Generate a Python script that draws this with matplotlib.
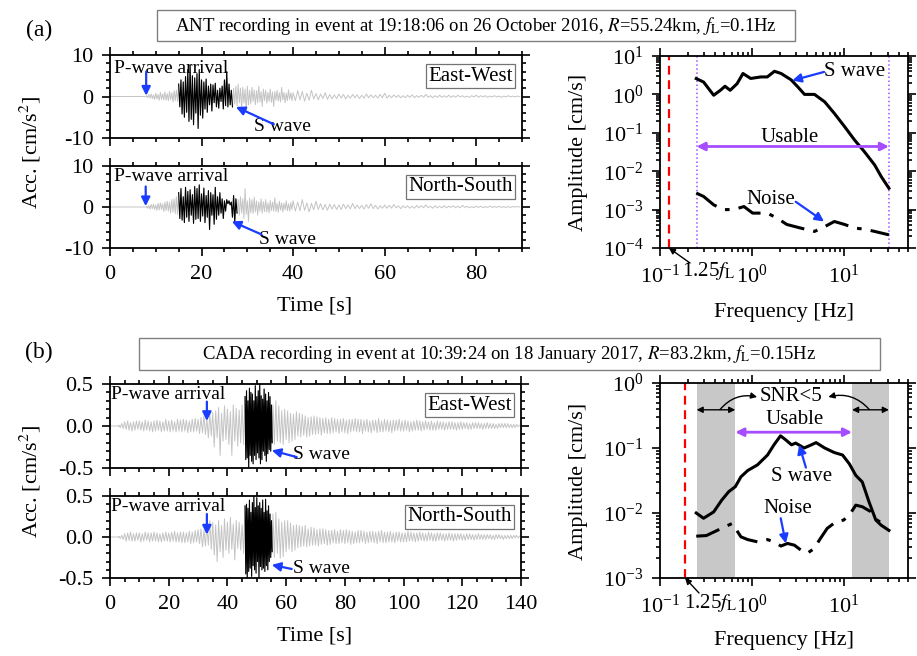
import numpy as np
import matplotlib.pyplot as plt
from matplotlib.patches import Rectangle
from matplotlib.ticker import MultipleLocator, LogLocator, NullFormatter, FormatStrFormatter

plt.rcParams['font.family'] = ['Liberation Serif', 'DejaVu Serif']
plt.rcParams['mathtext.fontset'] = 'stix'
plt.rcParams['axes.unicode_minus'] = False

# ---------------- (a) ANT, accelerations in cm/s^2 ----------------
# peak values, segments start at t0 with fixed step dt
ant_ew_pre = [0.2, -0.3, 0.5, -0.4, 0.6, -0.5, 0.4, -0.7, 0.8, -0.6, 0.5, -0.9, 1.0, -0.7,
              0.6, -0.8, 1.1, -0.9, 0.7, -1.0, 1.2, -0.8, 0.9, -1.3, 1.4, -1.0, 1.5, -1.2]
ant_ew_win = [3.0, -2.5, 4.0, -4.2, 3.5, -5.0, 4.8, -3.8, 6.5, -6.0, 7.6, -5.5, 5.0, -6.8,
              4.5, -4.0, 5.5, -7.7, 6.5, -4.5, 4.0, -5.2, 3.5, -3.0, 4.2, -3.8, 2.5, -2.0,
              3.0, -3.5, 2.8, -1.5, 3.2, -2.5, 1.5, -2.8, 2.0, -1.2, 2.5, -3.0, 4.0, -2.2,
              6.0, -2.5, 3.0, -2.0, 1.5, -2.5]
ant_ew_post = [2.0, -1.8, 2.5, -2.2, 3.0, -1.5, 2.0, -2.8, 2.2, -1.6, 1.8, -3.5, 2.5, -2.0,
               1.5, -1.8, 2.2, -1.2, 1.6, -2.0, 1.4, -1.5, 2.5, -1.3, 1.2, -2.4, 1.8, -1.0,
               1.5, -1.6, 1.0, -1.2, 1.8, -1.4, 1.1, -2.4, 1.2, -0.9, 1.5, -1.1, 0.9, -1.3,
               2.2, -0.8, 1.0, -1.5, 0.8, -1.0, 1.6, -0.7, 0.9, -1.0]
ant_ew_tail = [0.9, -1.0, 1.4, -0.8, 1.2, -1.1, 0.8, -0.9, 1.5, -0.6,
               0.7, -0.8, 0.6, -0.5, 0.9, -0.7, 0.5, -0.6, 0.4, -0.5,
               0.6, -0.4, 0.5, -0.6, 0.3, -0.4, 0.5, -0.3, 0.4, -0.5,
               0.3, -0.4, 0.6, -0.3, 0.4, -0.3, 0.3, -0.4, 0.5, -0.3,
               0.8, -0.4, 0.3, -0.3, 0.4, -0.2, 0.3, -0.3, 0.2, -0.3,
               0.3, -0.2, 0.4, -0.3, 0.2, -0.2, 0.3, -0.2, 0.5, -0.2,
               0.2, -0.3, 0.2, -0.2, 0.3, -0.2, 0.2, -0.2, 0.3, -0.2,
               0.2, -0.2, 0.3, -0.1, 0.2, -0.2, 0.1, -0.2, 0.2, -0.1,
               0.3, -0.2, 0.2, -0.1, 0.2, -0.2, 0.1, -0.1, 0.2, -0.1,
               0.1, -0.2, 0.1, -0.1, 0.2, -0.1, 0.1, -0.1, 0.1, 0.0]

ant_ns_pre = [0.2, -0.3, 0.4, -0.5, 0.6, -0.4, 0.7, -0.6, 0.5, -0.8, 0.9, -0.7, 1.0, -0.6,
              0.8, -1.1, 1.2, -0.9, 1.4, -1.0, 1.2, -1.5, 1.8, -1.2, 2.0, -1.6, 2.5, -1.8]
ant_ns_win = [3.5, -2.8, 4.5, -3.2, 2.5, -3.8, 4.8, -2.5, 3.8, -3.5, 4.2, -2.0, 3.0, -4.0,
              5.0, -3.0, 4.5, -2.8, 5.4, -3.5, 3.2, -2.2, 4.6, -3.8, 2.8, -2.5, 4.0, -5.5,
              3.5, -2.0, 3.0, -4.2, 4.8, -3.0, 2.5, -2.0, 3.5, -1.5, 2.0, -2.8, 1.5, -1.0,
              1.8, 0.8, 1.5, 0.5, 1.2, -2.5, 2.8, -3.8, 2.0, -1.5]
ant_ns_post = [1.8, -2.0, 2.5, -1.5, 2.0, -2.8, 4.5, -1.8, 1.5, -3.5, 2.2, -1.4, 1.8, -1.6,
               2.4, -1.2, 1.5, -2.0, 1.2, -1.0, 2.0, -1.5, 1.3, -1.1, 1.8, -1.2, 1.0, -1.4,
               1.6, -0.9, 1.2, -1.0, 2.2, -1.1, 0.9, -1.3, 1.4, -0.8, 1.0, -1.2, 0.9, -0.7,
               1.5, -0.9, 0.8, -1.0, 1.1, -0.6]
ant_ns_tail = [1.5, -1.0, 1.2, -0.9, 1.8, -0.8, 1.0, -1.2, 0.9, -0.7,
               1.4, -0.6, 0.8, -0.7, 0.6, -0.8, 0.7, -0.5, 0.6, -0.6,
               0.5, -0.6, 0.7, -0.4, 0.5, -0.5, 0.9, -0.4, 0.5, -0.4,
               0.4, -0.5, 0.6, -0.3, 0.8, -0.4, 0.4, -0.5, 0.3, -0.3,
               0.5, -0.3, 0.4, -0.3, 0.6, -0.2, 0.3, -0.4, 0.3, -0.2,
               0.3, -0.3, 0.2, -0.3, 0.4, -0.2, 0.3, -0.2, 0.5, -0.2,
               0.2, -0.3, 0.3, -0.2, 0.2, -0.2, 0.3, -0.2, 0.2, -0.1,
               0.3, -0.2, 0.2, -0.2, 0.4, -0.1, 0.2, -0.2, 0.1, -0.2,
               0.2, -0.1, 0.2, -0.2, 0.1, -0.1, 0.2, -0.1, 0.1, -0.1,
               0.2, -0.1, 0.1, -0.1, 0.1, -0.1, 0.1, 0.0, 0.1, 0.0]

# ---------------- (b) CADA, accelerations in 0.01 cm/s^2 ----------------
cada_ew_pre = [1, -2, 3, -3,
               5, -4, 6, -5, 4, -6, 5, -5, 6, -4,
               6, -5, 5, -6, 7, -5, 6, -6, 5, -7,
               6, -6, 7, -5, 6, -7, 5, -6, 8, -6,
               6, -7, 7, -6, 5, -7, 8, -6, 7, -7,
               8, -6, 7, -8, 6, -7, 8, -7, 9, -6,
               8, -9, 10, -8, 12, -10, 9, -14, 15, -12,
               16, -25, 18, -14, 22, -35, 15, -18, 24, -16,
               20, -22, 17, -35, 25, -18, 21, -24, 19, -20, 25, -22]
cada_ew_win = [35, -40, 42, -38, 30, -50, 45, -35, 40, -42, 38, -45, 30, -35, 48, -40,
               35, -32, 42, -38, 50, -45, 36, -40, 32, -30, 44, -35, 38, -42, 30, -33,
               40, -28, 35, -30, 25, -20]
cada_ew_post = [25, -22, 30, -18, 24, -20, 18, -22, 20,
                -16, 18, -20, 15, -18, 14, -16, 17, -12, 15,
                -13, 14, -11, 12, -13, 10, -12, 11, -10, 12,
                -10, 11, -9, 10, -11, 9, -8, 10, -9, 8,
                -9, 10, -8, 9, -7, 8, -9, 8, -7, 9,
                -8, 7, -9, 8, -7, 8, -6, 9, -7, 8,
                -7, 8, -9, 7, -6, 8, -7, 6, -8, 7,
                -6, 7, -8, 9, -7, 6, -7, 8, -6, 7,
                -7, 6, -8, 7, -6, 7, -5, 8, -6, 6,
                -6, 7, -5, 6, -7, 5, -6, 6, -5, 7,
                -5, 6, -6, 5, -5, 6, -4, 5, -5, 6,
                -5, 4, -5, 6, -4, 5, -4, 5, -5, 4,
                -4, 5, -4, 5, -4, 4, -5, 4, -4, 5,
                -4, 4, -3, 4, -4, 3, -4, 4, -3, 4,
                -3, 4, -3, 3, -4, 3, -3, 4, -3, 3,
                -3, 3, -3, 2, -3, 3, -2, 3, -2, 3,
                -2, 3, -2, 2, -2, 2, -2, 2, -1, 1]

cada_ns_pre = [1, -2, 2, -3,
               4, -5, 5, -4, 6, -5, 4, -5, 5, -4,
               5, -6, 4, -5, 6, -4, 5, -6, 5, -5,
               6, -5, 5, -6, 4, -6, 5, -5, 6, -5,
               5, -6, 6, -5, 7, -6, 5, -6, 6, -7,
               6, -7, 5, -6, 7, -8, 6, -7, 8, -6,
               9, -8, 10, -12, 9, -11, 14, -10, 20, -15,
               18, -22, 15, -30, 20, -18, 14, -25, 22, -16,
               18, -20, 24, -15, 16, -28, 20, -14, 18, -16, 15, -20]
cada_ns_win = [38, -45, 40, -50, 35, -42, 45, -38, 30, -48, 42, -35, 50, -40, 36, -44,
               48, -30, 38, -50, 42, -36, 35, -40, 45, -38, 30, -42, 46, -35, 32, -40,
               38, -30, 28, -25, 20, -18]
cada_ns_post = [28, -25, 30, -20, 22, -26, 18, -24, 20,
                -18, 20, -15, 17, -18, 14, -16, 15, -13, 14,
                -12, 13, -11, 14, -12, 10, -11, 12, -10, 11,
                -10, 9, -11, 10, -9, 10, -8, 9, -10, 8,
                -9, 8, -7, 9, -8, 7, -8, 9, -7, 8,
                -8, 9, -7, 8, -9, 7, -8, 6, -7, 8,
                -7, 8, -6, 7, -8, 6, -7, 7, -6, 7,
                -7, 6, -8, 7, -6, 8, -7, 6, -7, 6,
                -6, 7, -6, 5, -7, 6, -5, 6, -6, 5,
                -6, 5, -6, 7, -5, 6, -5, 5, -6, 5,
                -5, 6, -4, 5, -5, 4, -5, 6, -4, 5,
                -5, 4, -5, 5, -4, 5, -4, 4, -5, 4,
                -4, 5, -4, 4, -5, 4, -4, 4, -3, 4,
                -4, 3, -4, 4, -3, 4, -3, 3, -4, 3,
                -3, 4, -3, 3, -3, 3, -3, 3, -2, 3,
                -3, 2, -3, 3, -2, 3, -2, 2, -3, 2,
                -2, 2, -2, 2, -2, 2, -1, 2, -1, 1]

# ---------------- Fourier spectra [cm/s] ----------------
fa_freq = [0.248, 0.298, 0.384, 0.454, 0.51, 0.58, 0.69, 0.80, 0.97, 1.25, 1.47, 1.76, 2.08,
           2.67, 3.16, 3.74, 4.8, 6.2, 7.9, 10.2, 13.1, 16.8, 21.7, 25.6, 31]
fa_swave = [2.58, 2.1, 0.95, 1.28, 1.63, 1.28, 1.9, 3.5, 2.6, 2.85, 2.85, 4.0, 3.5,
            2.4, 1.57, 1.0, 1.0, 0.64, 0.32, 0.145, 0.065, 0.032, 0.0145, 0.0072, 0.0036]
fa_nfreq = [0.248, 0.298, 0.384, 0.49, 0.63, 0.82, 1.02, 1.47, 1.88, 2.4, 3.4, 4.8, 6.2,
            7.9, 10.2, 13.1, 16.8, 21.7, 31]
fa_noise = [0.0027, 0.0022, 0.00133, 0.001, 0.001, 0.0012, 0.00081, 0.00081, 0.0006,
            0.00041, 0.00033, 0.00027, 0.00036, 0.00049, 0.00041, 0.00033, 0.00031,
            0.00027, 0.00022]

fb_freq = [0.248, 0.298, 0.384, 0.47, 0.56, 0.66, 0.76, 0.90, 1.15, 1.48, 1.74, 2.05, 2.34,
           2.7, 3.0, 3.7, 4.2, 5.0, 6.2, 7.9, 9.7, 11.5, 13.5, 15.9, 18.8, 22.3, 25.5, 31]
fb_swave = [0.010, 0.0083, 0.0104, 0.0158, 0.0213, 0.0254, 0.036, 0.045, 0.055, 0.078,
            0.112, 0.154, 0.133, 0.112, 0.119, 0.1, 0.108, 0.121, 0.1, 0.085, 0.078, 0.057,
            0.038, 0.030, 0.0149, 0.0078, 0.0065, 0.0054]
fb_nfreq = [0.248, 0.32, 0.42, 0.61, 0.76, 0.9, 1.15, 1.48, 1.74, 2.07, 2.44, 2.9, 3.4, 4.0,
            4.7, 5.6, 6.6, 8.2, 10, 11.9, 13.5, 15.9, 19.6, 23, 30]
fb_noise = [0.0044, 0.0045, 0.0054, 0.0069, 0.0043, 0.0039, 0.0036, 0.0039, 0.0036, 0.0031,
            0.0034, 0.0032, 0.0027, 0.0024, 0.0028, 0.0041, 0.0058, 0.0073, 0.0078, 0.01,
            0.0132, 0.0125, 0.0105, 0.0078, 0.0061]

fl_a, fl_b = 0.1, 0.15
usable_a = (0.25, 31)
low_snr_b = [(0.25, 0.66), (12.3, 31)]

W, H = 917, 656
fig = plt.figure(figsize=(W / 100, H / 100), dpi=100)


def rect(x0, x1, y0, y1):
    return [x0 / W, 1 - y1 / H, (x1 - x0) / W, (y1 - y0) / H]


def seg(t0, dt, vals, scale=1.0):
    t = t0 + dt * np.arange(len(vals))
    return t, np.asarray(vals, float) * scale


def style(ax):
    for s in ax.spines.values():
        s.set_linewidth(1.3)
    ax.tick_params(which='both', direction='out', top=True, right=True,
                   labelsize=16, width=1.2, pad=6)
    ax.tick_params(which='major', length=6)
    ax.tick_params(which='minor', length=3)


blue = '#1a3cff'
purple = '#a64dff'
grey = '#c4c4c4'
arr = dict(arrowstyle='-|>', color=blue, lw=1.6, mutation_scale=13, shrinkA=0, shrinkB=0)
karr = dict(arrowstyle='-|>', color='black', lw=1, mutation_scale=9, shrinkA=0, shrinkB=0)


def trace_panel(ax, parts, win_idx, xmax, ylim, label, p_arr, s_arr):
    ts, ys = [], []
    for t, y in parts:
        ts.append(t)
        ys.append(y)
    ax.plot(np.concatenate(ts), np.concatenate(ys), color=grey, lw=0.7)
    ax.plot(ts[win_idx], ys[win_idx], color='black', lw=0.8)
    ax.set_xlim(0, xmax)
    ax.set_ylim(-ylim, ylim)
    style(ax)
    ax.text(0.978, 0.86, label, transform=ax.transAxes, ha='right', va='top', fontsize=15,
            bbox=dict(boxstyle='square,pad=0.12', fc='white', ec='0.45', lw=0.9))
    (ptx, pty), (pa0, pa1) = p_arr
    ax.text(ptx, pty, 'P-wave arrival', fontsize=14, ha='left', va='center')
    ax.annotate('', xy=pa1, xytext=pa0, arrowprops=arr)
    (stx, sty), (sa0, sa1) = s_arr
    ax.text(stx, sty, 'S wave', fontsize=14, ha='left', va='center')
    ax.annotate('', xy=sa1, xytext=sa0, arrowprops=arr)


# ---- (a) time series ----
ax1 = fig.add_axes(rect(110, 522, 55, 138))
ax2 = fig.add_axes(rect(110, 522, 166, 248))
trace_panel(ax1, [([0, 8], [0, 0]), seg(8, 0.25, ant_ew_pre), seg(15, 0.25, ant_ew_win),
                  seg(27, 0.25, ant_ew_post), seg(40, 0.5, ant_ew_tail)], 2, 90, 10,
            'East-West', ((0.8, 6.8), ((7.9, 6.0), (7.9, 0.2))),
            ((31.5, -7.3), ((35.8, -6.7), (27.5, -2.5))))
trace_panel(ax2, [([0, 8], [0, 0]), seg(8, 0.25, ant_ns_pre), seg(15, 0.25, ant_ns_win),
                  seg(28, 0.25, ant_ns_post), seg(40, 0.5, ant_ns_tail)], 2, 90, 10,
            'North-South', ((0.8, 7.4), ((7.8, 5.0), (7.8, 0.2))),
            ((32.5, -8.0), ((33.1, -6.7), (26.6, -3.5))))
for ax in (ax1, ax2):
    ax.set_yticks([-10, 0, 10])
    ax.yaxis.set_minor_locator(MultipleLocator(2))
    ax.xaxis.set_major_locator(MultipleLocator(20))
    ax.xaxis.set_minor_locator(MultipleLocator(5))
ax1.tick_params(labelbottom=False)

# ---- (b) time series ----
ax4 = fig.add_axes(rect(110, 521, 384, 468))
ax5 = fig.add_axes(rect(110, 521, 496, 578))
trace_panel(ax4, [([0, 3], [0, 0]), seg(3, 0.5, cada_ew_pre, 0.01),
                  seg(46, 0.25, cada_ew_win, 0.01), seg(55.5, 0.5, cada_ew_post, 0.01)],
            2, 140, 0.5, 'East-West', ((0.5, 0.37), ((33, 0.29), (33, 0.06))),
            ((62.3, -0.34), ((63.6, -0.37), (55.1, -0.29))))
trace_panel(ax5, [([0, 3], [0, 0]), seg(3, 0.5, cada_ns_pre, 0.01),
                  seg(46, 0.25, cada_ns_win, 0.01), seg(55.5, 0.5, cada_ns_post, 0.01)],
            2, 140, 0.5, 'North-South', ((0.5, 0.37), ((33, 0.28), (33, 0.03))),
            ((62.3, -0.38), ((61.9, -0.39), (55.1, -0.34))))
for ax in (ax4, ax5):
    ax.yaxis.set_major_locator(MultipleLocator(0.5))
    ax.yaxis.set_minor_locator(MultipleLocator(0.1))
    ax.yaxis.set_major_formatter(FormatStrFormatter('%.1f'))
    ax.xaxis.set_major_locator(MultipleLocator(20))
    ax.xaxis.set_minor_locator(MultipleLocator(5))
ax4.tick_params(labelbottom=False)


def spec_style(ax, ylo, yhi):
    ax.set_xscale('log')
    ax.set_yscale('log')
    ax.set_xlim(0.1, 50)
    ax.set_ylim(ylo, yhi)
    ax.xaxis.set_major_locator(LogLocator(10, numticks=10))
    ax.xaxis.set_minor_locator(LogLocator(10, subs=np.arange(2, 10), numticks=10))
    ax.xaxis.set_minor_formatter(NullFormatter())
    ax.yaxis.set_major_locator(LogLocator(10, numticks=10))
    ax.yaxis.set_minor_locator(LogLocator(10, subs=np.arange(2, 10), numticks=10))
    ax.yaxis.set_minor_formatter(NullFormatter())
    style(ax)


def fl_label(ax, fl, ymin, text_xy, tail_xy):
    fig.text(text_xy[0] / W, 1 - text_xy[1] / H, '1.25$f_{\\mathrm{L}}$', fontsize=15,
             ha='center', va='center')
    ax.annotate('', xy=(1.25 * fl, ymin), xycoords='data',
                xytext=(tail_xy[0], H - tail_xy[1]), textcoords='figure pixels',
                annotation_clip=False, arrowprops=karr)


dashdot = (0, (8, 3, 1.5, 3))

# ---- (a) spectrum ----
ax3 = fig.add_axes(rect(660, 908, 56, 248))
spec_style(ax3, 1e-4, 10)
ax3.axvline(1.25 * fl_a, color='red', ls=(0, (4, 2.5)), lw=1.6)
for f in usable_a:
    ax3.axvline(f, color=purple, ls=':', lw=1.1)
ax3.plot(fa_freq, fa_swave, color='black', lw=2.2)
ax3.plot(fa_nfreq, fa_noise, color='black', lw=2.2, ls=dashdot)
ax3.annotate('', xy=(usable_a[1], 0.044), xytext=(usable_a[0], 0.044),
             arrowprops=dict(arrowstyle='<|-|>', color=purple, lw=2, mutation_scale=12,
                             shrinkA=0, shrinkB=0))
ax3.text(2.6, 0.075, 'Usable', fontsize=15, ha='center', va='center')
ax3.text(13, 4.0, 'S wave', fontsize=15, ha='center', va='center')
ax3.annotate('', xy=(2.75, 2.3), xytext=(6.1, 3.85), arrowprops=arr)
ax3.text(1.6, 0.0018, 'Noise', fontsize=15, ha='center', va='center')
ax3.annotate('', xy=(6.1, 0.00049), xytext=(3.0, 0.0016), arrowprops=arr)
fl_label(ax3, fl_a, 1e-4, (709, 271), (690, 263))

# ---- (b) spectrum ----
ax6 = fig.add_axes(rect(660, 908, 383, 578))
spec_style(ax6, 1e-3, 1)
for lo, hi in low_snr_b:
    ax6.axvspan(lo, hi, color='#c8c8c8', lw=0, zorder=0)
ax6.axvline(1.25 * fl_b, color='red', ls=(0, (4, 2.5)), lw=1.6)
ax6.plot(fb_freq, fb_swave, color='black', lw=2.2)
ax6.plot(fb_nfreq, fb_noise, color='black', lw=2.2, ls=dashdot)
for lo, hi in low_snr_b:
    ax6.annotate('', xy=(hi, 0.387), xytext=(lo, 0.387),
                 arrowprops=dict(arrowstyle='<|-|>', color='black', lw=1, mutation_scale=9,
                                 shrinkA=0, shrinkB=0))
ax6.text(2.65, 0.62, 'SNR<5', fontsize=15, ha='center', va='center')
ax6.annotate('', xy=(1.14, 0.61), xytext=(0.45, 0.39),
             arrowprops=dict(karr, connectionstyle='arc3,rad=-0.3'))
ax6.annotate('', xy=(6.8, 0.61), xytext=(19, 0.39),
             arrowprops=dict(karr, connectionstyle='arc3,rad=0.3'))
ax6.annotate('', xy=(low_snr_b[1][0], 0.175), xytext=(low_snr_b[0][1], 0.175),
             arrowprops=dict(arrowstyle='<|-|>', color=purple, lw=2, mutation_scale=12,
                             shrinkA=0, shrinkB=0))
ax6.text(2.9, 0.27, 'Usable', fontsize=15, ha='center', va='center')
ax6.text(3.5, 0.037, 'S wave', fontsize=15, ha='center', va='center')
ax6.annotate('', xy=(3.27, 0.112), xytext=(3.87, 0.05), arrowprops=arr)
ax6.text(2.44, 0.0117, 'Noise', fontsize=15, ha='center', va='center')
ax6.annotate('', xy=(2.34, 0.0034), xytext=(2.06, 0.0083), arrowprops=arr)
fl_label(ax6, fl_b, 1e-3, (711, 603), (699, 593))

# ---- figure level text ----
def ftext(x, y, s, **kw):
    fig.text(x / W, 1 - y / H, s, ha='center', va='center', **kw)


for (x0, x1, y0, y1), cx, cy, s in [
        ((157, 795, 10, 41), 476, 26,
         'ANT recording in event at 19:18:06 on 26 October 2016, $R$=55.24km, $f_{\\mathrm{L}}$=0.1Hz'),
        ((139, 880, 338, 370), 509, 354,
         'CADA recording in event at 10:39:24 on 18 January 2017, $R$=83.2km, $f_{\\mathrm{L}}$=0.15Hz')]:
    fig.patches.append(Rectangle((x0 / W, 1 - y1 / H), (x1 - x0) / W, (y1 - y0) / H,
                                 transform=fig.transFigure, fill=False, ec='0.5', lw=1))
    ftext(cx, cy, s, fontsize=13.5)

ftext(39, 30, '(a)', fontsize=17)
ftext(39, 352, '(b)', fontsize=17)
ftext(30, 152, 'Acc. [cm/s$^2$]', fontsize=16, rotation=90)
ftext(30, 481, 'Acc. [cm/s$^2$]', fontsize=16, rotation=90)
ftext(315, 306, 'Time [s]', fontsize=16)
ftext(315, 636, 'Time [s]', fontsize=16)
ftext(784, 312, 'Frequency [Hz]', fontsize=16)
ftext(784, 641, 'Frequency [Hz]', fontsize=16)
ftext(578, 152, 'Amplitude [cm/s]', fontsize=16, rotation=90)
ftext(578, 481, 'Amplitude [cm/s]', fontsize=16, rotation=90)

fig.savefig('out.png', dpi=100)
